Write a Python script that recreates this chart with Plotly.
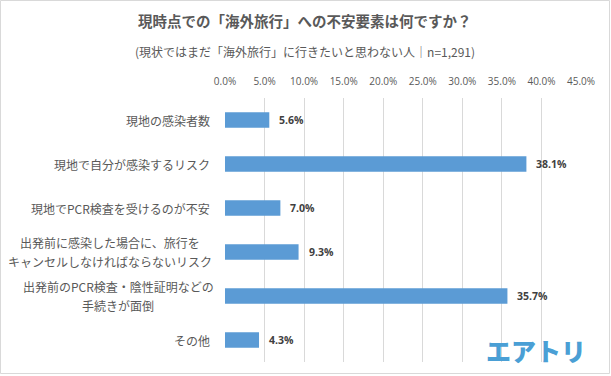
import plotly.graph_objects as go

categories = [
    "現地の感染者数",
    "現地で自分が感染するリスク",
    "現地でPCR検査を受けるのが不安",
    "出発前に感染した場合に、旅行を<br>キャンセルしなければならないリスク",
    "出発前のPCR検査・陰性証明などの<br>手続きが面倒",
    "その他",
]
values = [5.6, 38.1, 7.0, 9.3, 35.7, 4.3]
tick_vals = [0, 5, 10, 15, 20, 25, 30, 35, 40, 45]

W, H = 611, 376
ML, MR, MT, MB = 225, 30, 98, 14
PW, PH = W - ML - MR, H - MT - MB

JP = "Noto Sans CJK JP"
BAR = "#5B9BD5"
TXT = "#595959"
LABEL_SIZE = 12


def px_x(px):
    return (px - ML) / PW


def px_y(py):
    return (H - MB - py) / PH


def text_width(s):
    return sum(LABEL_SIZE * 0.55 if ord(ch) < 128 else LABEL_SIZE for ch in s)


fig = go.Figure()
fig.add_trace(go.Bar(
    y=list(range(len(categories))), x=values, orientation="h",
    marker=dict(color=BAR, line=dict(width=0)),
    hoverinfo="skip",
))

annotations = []
label_right = 212
for i, (c, v) in enumerate(zip(categories, values)):
    annotations.append(dict(
        x=v, y=i, xref="x", yref="y", text=f"<b>{v:.1f}%</b>",
        showarrow=False, xanchor="left", xshift=8,
        font=dict(family="Open Sans", size=10.5, color="#404040"),
    ))
    lines = c.split("<br>")
    if len(lines) == 1:
        annotations.append(dict(
            x=px_x(label_right), y=i, xref="paper", yref="y", text=c,
            showarrow=False, xanchor="right",
            font=dict(family=JP, size=LABEL_SIZE, color=TXT),
        ))
    else:
        widest = max(text_width(s) for s in lines)
        center = label_right - widest / 2
        for k, s in enumerate(lines):
            annotations.append(dict(
                x=px_x(center), y=i, xref="paper", yref="y", text=s,
                showarrow=False, xanchor="center",
                yshift=9.5 if k == 0 else -9.5,
                font=dict(family=JP, size=LABEL_SIZE, color=TXT),
            ))

annotations.append(dict(
    x=px_x(305), y=px_y(21), xref="paper", yref="paper",
    text="<b>現時点での「海外旅行」への不安要素は何ですか？</b>",
    showarrow=False, xanchor="center", yanchor="middle",
    font=dict(family=JP, size=14.5, color=TXT),
))
annotations.append(dict(
    x=px_x(305), y=px_y(51), xref="paper", yref="paper",
    text="(現状ではまだ「海外旅行」に行きたいと思わない人｜n=1,291)",
    showarrow=False, xanchor="center", yanchor="middle",
    font=dict(family=JP, size=12, color=TXT),
))
annotations.append(dict(
    x=px_x(536), y=px_y(350), xref="paper", yref="paper",
    text="エアトリ",
    showarrow=False, xanchor="center", yanchor="middle",
    font=dict(family=JP, size=25, color="#4A9FD5", weight=900),
))

fig.update_layout(
    width=W, height=H,
    margin=dict(l=ML, r=MR, t=MT, b=MB, autoexpand=False),
    paper_bgcolor="white", plot_bgcolor="white",
    showlegend=False, bargap=0.645,
    annotations=annotations,
    xaxis=dict(
        side="top", range=[0, 45], tickvals=tick_vals,
        ticktext=[f"{t:.1f}%" for t in tick_vals],
        showgrid=True, gridcolor="#D9D9D9", gridwidth=1,
        zeroline=False, showline=False, ticks="",
        ticklabelstandoff=10,
        tickfont=dict(family="Open Sans", size=10, color=TXT),
        fixedrange=True, automargin=False,
    ),
    yaxis=dict(
        showticklabels=False, showgrid=False,
        zeroline=False, showline=False, ticks="", fixedrange=True,
        range=[len(categories) - 0.5, -0.5], automargin=False,
    ),
    shapes=[
        dict(type="rect", xref="paper", yref="paper",
             x0=px_x(0.5), x1=px_x(609.5), y0=px_y(373.5), y1=px_y(0.5),
             line=dict(color="#D9D9D9", width=1)),
    ],
)

fig.write_html("out.html", config={"displayModeBar": False},
               post_script="document.body.style.margin='0';")
